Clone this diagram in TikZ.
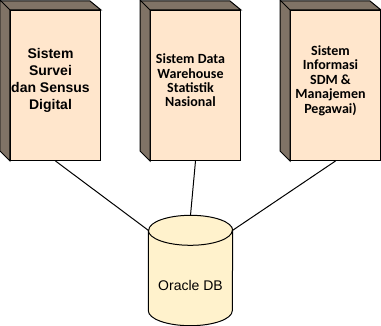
\documentclass[tikz,border=0pt]{standalone}
\usepackage{fontspec}
\setmainfont{Liberation Sans}
\newfontfamily\calibri{Carlito}
\usetikzlibrary{backgrounds}

\definecolor{kotakisi}{HTML}{FFE6CC}
\definecolor{kotaksisi}{HTML}{807366}
\definecolor{tabungisi}{HTML}{FFF2CC}

\tikzset{
  server/.style={draw, fill=kotakisi, line width=1pt, minimum width=90pt,
    minimum height=150pt, inner sep=0pt},
  serversisi/.style={fill=kotaksisi, draw, line width=1pt},
  judul/.style={align=center, inner sep=0pt, font=\bfseries\fontsize{14}{16.8}\selectfont},
  judulcal/.style={align=center, inner sep=0pt, font=\calibri\bfseries\fontsize{14}{14.4}\selectfont},
  dbnode/.style={minimum width=84pt, minimum height=80pt, inner sep=0pt,
    font=\fontsize{14}{16.8}\selectfont},
  tabung/.style={fill=tabungisi, draw, line width=1pt},
  garis/.style={line width=1pt}
}

\begin{document}
\begin{tikzpicture}[x=1pt, y=1pt]
    \useasboundingbox (-0.5,0.5) rectangle (380.5,-325.5);

    % Front faces of the three servers
    \node[server] (survei) at (55,-85) {};
    \node[server] (dwh) at (195,-85) {};
    \node[server] (sdm) at (335,-85) {};

    % Dark side and top of each cube
    \foreach \n in {survei, dwh, sdm} {
        \filldraw[serversisi] (\n.south west) -- ++(-10,10) -- ++(0,150)
          -- ++(90,0) -- (\n.north east) -- (\n.north west) -- cycle;
        \draw[line width=1pt] (\n.north west) -- ++(-10,10);
      }

    % Server labels
    \node[judul] (survei-teks) at (50,-80) {Sistem\\Survei\\dan Sensus\\Digital};
    \node[judulcal] (dwh-teks) at (190,-80) {Sistem Data\\Warehouse\\Statistik\\Nasional};
    \node[judulcal] (sdm-teks) at (330,-80) {Sistem\\Informasi\\SDM \&\\Manajemen\\Pegawai)};

    % Database cylinder
    \node[dbnode] (oracle) at (190,-285) {Oracle DB};
    \coordinate (oracle-kiri) at ([yshift=15pt]oracle.north west);
    \coordinate (oracle-kanan) at ([yshift=15pt]oracle.north east);
    \coordinate (oracle-atas) at ([yshift=30pt]oracle.north);

    \begin{scope}[on background layer]
        \filldraw[tabung] (oracle-kiri) -- ([yshift=15pt]oracle.south west)
          arc[start angle=180, end angle=360, x radius=42, y radius=15]
          -- (oracle-kanan)
          arc[start angle=0, end angle=180, x radius=42, y radius=15] -- cycle;
        \draw[line width=1pt] (oracle-kiri)
          arc[start angle=180, end angle=360, x radius=42, y radius=15];
      \end{scope}

    % Connections to the database
    \draw[garis] (survei.south) -- (oracle-kiri);
    \draw[garis] (dwh.south) -- (oracle-atas);
    \draw[garis] (sdm.south) -- (oracle-kanan);
  \end{tikzpicture}
\end{document}
